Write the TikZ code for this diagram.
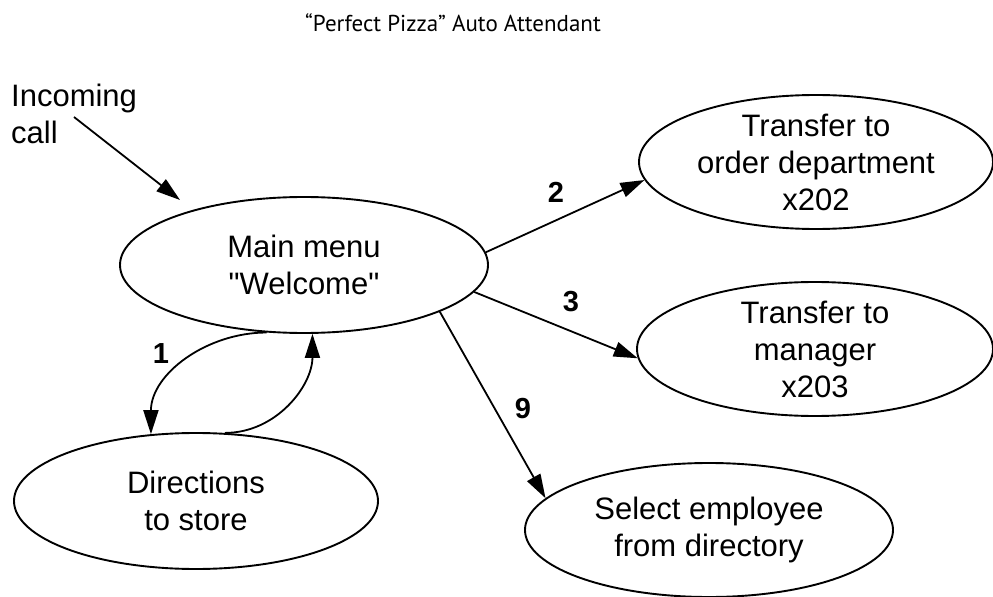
\documentclass[tikz,border=0pt]{standalone}
\usepackage{fontspec}
\setmainfont{Liberation Sans}
\newfontfamily\titlefont{PT Sans}
\usetikzlibrary{shapes.geometric,arrows.meta}
\begin{document}
\begin{tikzpicture}[x=1bp,y=-1bp,
  state/.style={draw, ellipse, line width=1.9bp, inner sep=0pt},
  statetext/.style={align=center, inner sep=0pt, font=\fontsize{31bp}{37bp}\selectfont},
  conn/.style={line width=1.8bp, -{Triangle[length=24bp,width=15bp]}},
  num/.style={inner sep=0pt, font=\fontsize{29bp}{34bp}\selectfont\bfseries}]
\useasboundingbox (0,0) rectangle (993,597);

\node[font=\titlefont\fontsize{23bp}{27bp}\selectfont] (title) at (453,23) {“Perfect Pizza” Auto Attendant};

\node[statetext, align=left, anchor=north west] (incoming) at (11,84) {Incoming\\call};

\node[state, minimum width=368bp, minimum height=136bp,
  label={[statetext]center:{Main menu\\\textquotedbl Welcome\textquotedbl}}] (main) at (304,265) {};
\node[state, minimum width=354bp, minimum height=134bp,
  label={[statetext]center:{Transfer to\\order department\\x202}}] (order) at (816,162) {};
\node[state, minimum width=356bp, minimum height=134bp,
  label={[statetext]center:{Transfer to\\manager\\x203}}] (manager) at (815,349) {};
\node[state, minimum width=364bp, minimum height=136bp,
  label={[statetext]center:{Directions\\to store}}] (directions) at (196,501) {};
\node[state, minimum width=368bp, minimum height=134bp,
  label={[statetext]center:{Select employee\\from directory}}] (select) at (709,530) {};

\coordinate (callstart) at (74,117);
\coordinate (callend) at (180,200);
\draw[conn] (callstart) -- (callend);

\draw[conn] (main.4) -- (order.186);
\draw[conn] (main.-9.5) -- (manager.183.5);
\draw[conn] (main.-19.5) -- (select.169.6);
\draw[conn] (main.241) to[out=180,in=90] (directions.124);
\draw[conn] (directions.67.7) to[out=0,in=-90] (main.-83);

\node[num] (n1) at (161,354) {1};
\node[num] (n2) at (556,192) {2};
\node[num] (n3) at (571,302) {3};
\node[num] (n9) at (523,409) {9};
\end{tikzpicture}
\end{document}
